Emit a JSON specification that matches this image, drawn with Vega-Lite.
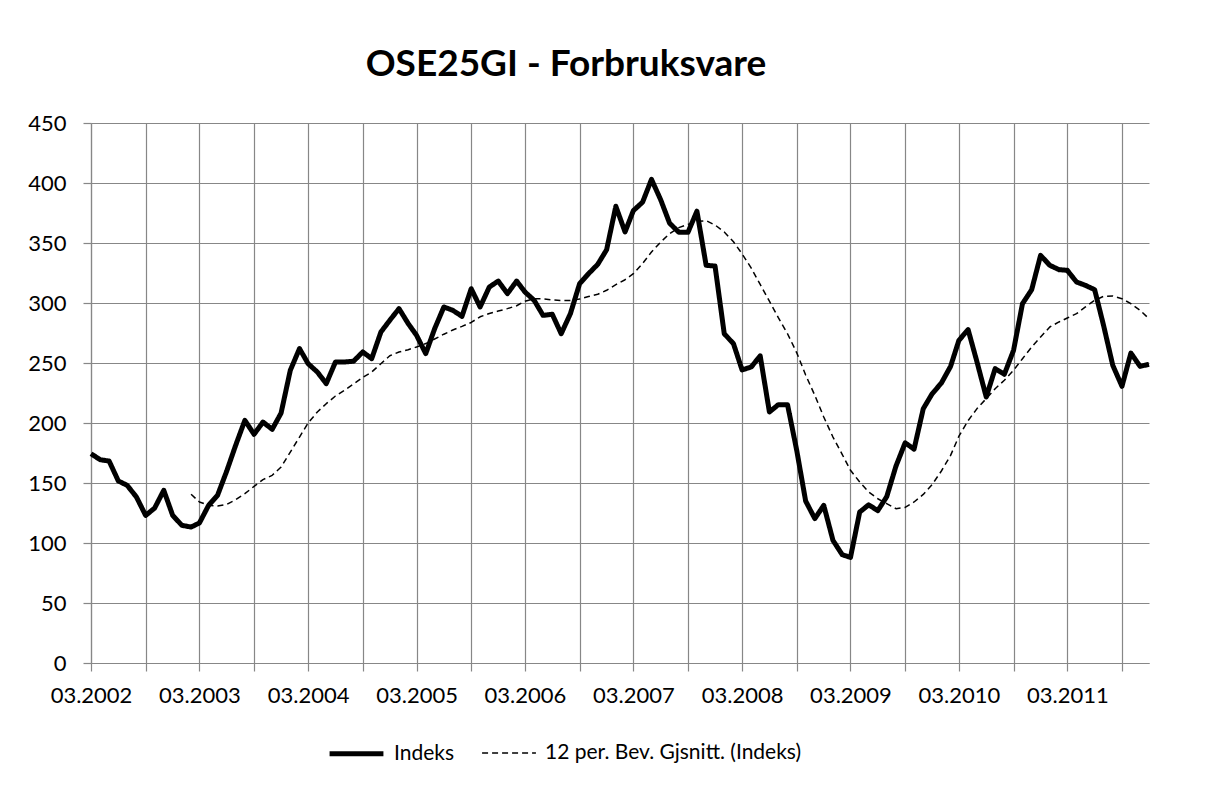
{
  "$schema": "https://vega.github.io/schema/vega-lite/v6.json",
  "width": 1058,
  "height": 540,
  "autosize": {"type": "none"},
  "padding": {"left": 91, "top": 123, "right": 62, "bottom": 122},
  "background": "white",
  "title": {
    "text": "OSE25GI - Forbruksvare",
    "font": "Lato",
    "fontSize": 37,
    "fontWeight": "bold",
    "color": "black",
    "anchor": "middle",
    "frame": "group",
    "dx": -54,
    "offset": 28
  },
  "data": {
    "values": [
      {"date": "2002-03-01", "Indeks": 174.4},
      {"date": "2002-04-01", "Indeks": 169.4},
      {"date": "2002-05-01", "Indeks": 168.3},
      {"date": "2002-06-01", "Indeks": 151.7},
      {"date": "2002-07-01", "Indeks": 148},
      {"date": "2002-08-01", "Indeks": 138.3},
      {"date": "2002-09-01", "Indeks": 123},
      {"date": "2002-10-01", "Indeks": 129},
      {"date": "2002-11-01", "Indeks": 143.9},
      {"date": "2002-12-01", "Indeks": 123},
      {"date": "2003-01-01", "Indeks": 114.7},
      {"date": "2003-02-01", "Indeks": 113.3, "MA": 140.6},
      {"date": "2003-03-01", "Indeks": 116.7, "MA": 134.2},
      {"date": "2003-04-01", "Indeks": 131.4, "MA": 131.4},
      {"date": "2003-05-01", "Indeks": 139.7, "MA": 130.8},
      {"date": "2003-06-01", "Indeks": 160, "MA": 132.2},
      {"date": "2003-07-01", "Indeks": 181.4, "MA": 136.1},
      {"date": "2003-08-01", "Indeks": 202.2, "MA": 141.1},
      {"date": "2003-09-01", "Indeks": 190.6, "MA": 147.2},
      {"date": "2003-10-01", "Indeks": 200.8, "MA": 152.8},
      {"date": "2003-11-01", "Indeks": 194.7, "MA": 156.4},
      {"date": "2003-12-01", "Indeks": 208.3, "MA": 163.3},
      {"date": "2004-01-01", "Indeks": 243.9, "MA": 175.8},
      {"date": "2004-02-01", "Indeks": 262, "MA": 188.3},
      {"date": "2004-03-01", "Indeks": 249.4, "MA": 200},
      {"date": "2004-04-01", "Indeks": 242.5, "MA": 209.2},
      {"date": "2004-05-01", "Indeks": 232.8, "MA": 216.1},
      {"date": "2004-06-01", "Indeks": 250.8, "MA": 222.5},
      {"date": "2004-07-01", "Indeks": 250.8, "MA": 227.2},
      {"date": "2004-08-01", "Indeks": 251.5, "MA": 232.5},
      {"date": "2004-09-01", "Indeks": 259.2, "MA": 238},
      {"date": "2004-10-01", "Indeks": 253.6, "MA": 242.5},
      {"date": "2004-11-01", "Indeks": 275.8, "MA": 249.4},
      {"date": "2004-12-01", "Indeks": 285.6, "MA": 256},
      {"date": "2005-01-01", "Indeks": 295.3, "MA": 259.2},
      {"date": "2005-02-01", "Indeks": 282.8, "MA": 261.1},
      {"date": "2005-03-01", "Indeks": 273.1, "MA": 263.3},
      {"date": "2005-04-01", "Indeks": 257.8, "MA": 266.2},
      {"date": "2005-05-01", "Indeks": 278.6, "MA": 270},
      {"date": "2005-06-01", "Indeks": 296.7, "MA": 274},
      {"date": "2005-07-01", "Indeks": 293.9, "MA": 277.5},
      {"date": "2005-08-01", "Indeks": 288.9, "MA": 280.5},
      {"date": "2005-09-01", "Indeks": 311.9, "MA": 283.8},
      {"date": "2005-10-01", "Indeks": 296.7, "MA": 288.5},
      {"date": "2005-11-01", "Indeks": 313.3, "MA": 291.3},
      {"date": "2005-12-01", "Indeks": 318.3, "MA": 293.3},
      {"date": "2006-01-01", "Indeks": 307.8, "MA": 295.3},
      {"date": "2006-02-01", "Indeks": 318.3, "MA": 297.7},
      {"date": "2006-03-01", "Indeks": 309.2, "MA": 301.5},
      {"date": "2006-04-01", "Indeks": 302.2, "MA": 303.6},
      {"date": "2006-05-01", "Indeks": 289.7, "MA": 303.4},
      {"date": "2006-06-01", "Indeks": 290.6, "MA": 302.6},
      {"date": "2006-07-01", "Indeks": 274.4, "MA": 302},
      {"date": "2006-08-01", "Indeks": 291.1, "MA": 302},
      {"date": "2006-09-01", "Indeks": 316.1, "MA": 303.4},
      {"date": "2006-10-01", "Indeks": 324.4, "MA": 305.4},
      {"date": "2006-11-01", "Indeks": 332.2, "MA": 307.3},
      {"date": "2006-12-01", "Indeks": 344.4, "MA": 310.6},
      {"date": "2007-01-01", "Indeks": 380.6, "MA": 315.3},
      {"date": "2007-02-01", "Indeks": 359.2, "MA": 319.4},
      {"date": "2007-03-01", "Indeks": 377, "MA": 324.4},
      {"date": "2007-04-01", "Indeks": 384, "MA": 332.8},
      {"date": "2007-05-01", "Indeks": 403, "MA": 342.5},
      {"date": "2007-06-01", "Indeks": 386, "MA": 350.8},
      {"date": "2007-07-01", "Indeks": 366.5, "MA": 357.8},
      {"date": "2007-08-01", "Indeks": 359, "MA": 362.8},
      {"date": "2007-09-01", "Indeks": 359, "MA": 365.5},
      {"date": "2007-10-01", "Indeks": 376.5, "MA": 368},
      {"date": "2007-11-01", "Indeks": 331.4, "MA": 368.6},
      {"date": "2007-12-01", "Indeks": 330.8, "MA": 365},
      {"date": "2008-01-01", "Indeks": 274.4, "MA": 359.2},
      {"date": "2008-02-01", "Indeks": 266.1, "MA": 351},
      {"date": "2008-03-01", "Indeks": 244.2, "MA": 341},
      {"date": "2008-04-01", "Indeks": 246.7, "MA": 329},
      {"date": "2008-05-01", "Indeks": 256, "MA": 315.5},
      {"date": "2008-06-01", "Indeks": 209.2, "MA": 301.5},
      {"date": "2008-07-01", "Indeks": 215.3, "MA": 287.8},
      {"date": "2008-08-01", "Indeks": 215.3, "MA": 274.4},
      {"date": "2008-09-01", "Indeks": 177.2, "MA": 258.5},
      {"date": "2008-10-01", "Indeks": 135, "MA": 240},
      {"date": "2008-11-01", "Indeks": 120.3, "MA": 223},
      {"date": "2008-12-01", "Indeks": 131.4, "MA": 205},
      {"date": "2009-01-01", "Indeks": 102.2, "MA": 188.3},
      {"date": "2009-02-01", "Indeks": 90.3, "MA": 173.9},
      {"date": "2009-03-01", "Indeks": 88, "MA": 160.6},
      {"date": "2009-04-01", "Indeks": 125.8, "MA": 150.8},
      {"date": "2009-05-01", "Indeks": 131.8, "MA": 142.5},
      {"date": "2009-06-01", "Indeks": 127, "MA": 136.9},
      {"date": "2009-07-01", "Indeks": 138.6, "MA": 132.8},
      {"date": "2009-08-01", "Indeks": 164, "MA": 128.6},
      {"date": "2009-09-01", "Indeks": 183.5, "MA": 129.6},
      {"date": "2009-10-01", "Indeks": 178.2, "MA": 134.2},
      {"date": "2009-11-01", "Indeks": 211.9, "MA": 140.5},
      {"date": "2009-12-01", "Indeks": 224.4, "MA": 148.7},
      {"date": "2010-01-01", "Indeks": 233.3, "MA": 160},
      {"date": "2010-02-01", "Indeks": 247.2, "MA": 173},
      {"date": "2010-03-01", "Indeks": 268.9, "MA": 189},
      {"date": "2010-04-01", "Indeks": 277.8, "MA": 202},
      {"date": "2010-05-01", "Indeks": 250.8, "MA": 212},
      {"date": "2010-06-01", "Indeks": 221.7, "MA": 220.3},
      {"date": "2010-07-01", "Indeks": 245.3, "MA": 228.6},
      {"date": "2010-08-01", "Indeks": 240.6, "MA": 235.6},
      {"date": "2010-09-01", "Indeks": 260.6, "MA": 243.9},
      {"date": "2010-10-01", "Indeks": 299.4, "MA": 253.6},
      {"date": "2010-11-01", "Indeks": 311.1, "MA": 263.3},
      {"date": "2010-12-01", "Indeks": 339.7, "MA": 271.7},
      {"date": "2011-01-01", "Indeks": 331.4, "MA": 280},
      {"date": "2011-02-01", "Indeks": 327.8, "MA": 284.2},
      {"date": "2011-03-01", "Indeks": 327.2, "MA": 287.5},
      {"date": "2011-04-01", "Indeks": 317.5, "MA": 291.1},
      {"date": "2011-05-01", "Indeks": 314.7, "MA": 296.7},
      {"date": "2011-06-01", "Indeks": 311.1, "MA": 302.2},
      {"date": "2011-07-01", "Indeks": 281.4, "MA": 305.6},
      {"date": "2011-08-01", "Indeks": 248.1, "MA": 305.8},
      {"date": "2011-09-01", "Indeks": 230.6, "MA": 303.6},
      {"date": "2011-10-01", "Indeks": 258.3, "MA": 299.4},
      {"date": "2011-11-01", "Indeks": 247.2, "MA": 293.9},
      {"date": "2011-12-01", "Indeks": 248.9, "MA": 286.9}
    ]
  },
  "transform": [
    {"fold": ["Indeks", "MA"], "as": ["series", "value"]}
  ],
  "mark": {"type": "line", "strokeJoin": "round", "strokeCap": "butt", "clip": false},
  "encoding": {
    "x": {
      "field": "date",
      "type": "temporal",
      "scale": {
        "type": "utc",
        "domain": [
          {"year": 2002, "month": 3, "date": 1, "utc": true},
          {"year": 2011, "month": 12, "date": 1, "utc": true}
        ]
      },
      "axis": {
        "title": null,
        "values": [
          {"year": 2002, "month": 3, "date": 1, "utc": true},
          {"year": 2002, "month": 9, "date": 1, "utc": true},
          {"year": 2003, "month": 3, "date": 1, "utc": true},
          {"year": 2003, "month": 9, "date": 1, "utc": true},
          {"year": 2004, "month": 3, "date": 1, "utc": true},
          {"year": 2004, "month": 9, "date": 1, "utc": true},
          {"year": 2005, "month": 3, "date": 1, "utc": true},
          {"year": 2005, "month": 9, "date": 1, "utc": true},
          {"year": 2006, "month": 3, "date": 1, "utc": true},
          {"year": 2006, "month": 9, "date": 1, "utc": true},
          {"year": 2007, "month": 3, "date": 1, "utc": true},
          {"year": 2007, "month": 9, "date": 1, "utc": true},
          {"year": 2008, "month": 3, "date": 1, "utc": true},
          {"year": 2008, "month": 9, "date": 1, "utc": true},
          {"year": 2009, "month": 3, "date": 1, "utc": true},
          {"year": 2009, "month": 9, "date": 1, "utc": true},
          {"year": 2010, "month": 3, "date": 1, "utc": true},
          {"year": 2010, "month": 9, "date": 1, "utc": true},
          {"year": 2011, "month": 3, "date": 1, "utc": true},
          {"year": 2011, "month": 9, "date": 1, "utc": true}
        ],
        "labelExpr": "utcmonth(datum.value) == 2 ? utcFormat(datum.value, '%m.%Y') : ''",
        "labelFont": "Lato",
        "labelFontSize": 22,
        "labelColor": "black",
        "labelPadding": 14,
        "labelFlush": false,
        "labelOverlap": false,
        "grid": true,
        "gridColor": "#878787",
        "gridWidth": 1.2,
        "tickColor": "#878787",
        "tickSize": 8,
        "tickWidth": 1.2,
        "domainColor": "#878787",
        "domainWidth": 1.2
      }
    },
    "y": {
      "field": "value",
      "type": "quantitative",
      "scale": {"domain": [0, 450], "nice": false, "zero": true},
      "axis": {
        "title": null,
        "values": [0, 50, 100, 150, 200, 250, 300, 350, 400, 450],
        "labelFont": "Lato",
        "labelFontSize": 22,
        "labelColor": "black",
        "labelPadding": 17,
        "grid": true,
        "gridColor": "#878787",
        "gridWidth": 1.2,
        "tickColor": "#878787",
        "tickSize": 8,
        "tickWidth": 1.2,
        "domainColor": "#878787",
        "domainWidth": 1.2
      }
    },
    "color": {
      "field": "series",
      "type": "nominal",
      "scale": {"domain": ["Indeks", "MA"], "range": ["#000000", "#000000"]},
      "legend": {
        "title": null,
        "orient": "none",
        "direction": "horizontal",
        "legendX": 236,
        "legendY": 601,
        "padding": 0,
        "symbolType": "stroke",
        "symbolSize": 2900,
        "labelFont": "Lato",
        "labelFontSize": 21,
        "labelColor": "black",
        "labelOffset": 8,
        "labelLimit": 0,
        "columnPadding": 24,
        "labelExpr": "datum.label == 'MA' ? '12 per. Bev. Gjsnitt. (Indeks)' : datum.label"
      }
    },
    "strokeDash": {
      "field": "series",
      "type": "nominal",
      "scale": {"domain": ["Indeks", "MA"], "range": [[1, 0], [6, 4]]},
      "legend": {
        "title": null,
        "orient": "none",
        "direction": "horizontal",
        "legendX": 236,
        "legendY": 601,
        "padding": 0,
        "symbolType": "stroke",
        "symbolSize": 2900,
        "labelFont": "Lato",
        "labelFontSize": 21,
        "labelColor": "black",
        "labelOffset": 8,
        "labelLimit": 0,
        "columnPadding": 24,
        "labelExpr": "datum.label == 'MA' ? '12 per. Bev. Gjsnitt. (Indeks)' : datum.label"
      }
    },
    "strokeWidth": {
      "field": "series",
      "type": "nominal",
      "scale": {"domain": ["Indeks", "MA"], "range": [5, 1.5]},
      "legend": {
        "title": null,
        "orient": "none",
        "direction": "horizontal",
        "legendX": 236,
        "legendY": 601,
        "padding": 0,
        "symbolType": "stroke",
        "symbolSize": 2900,
        "labelFont": "Lato",
        "labelFontSize": 21,
        "labelColor": "black",
        "labelOffset": 8,
        "labelLimit": 0,
        "columnPadding": 24,
        "labelExpr": "datum.label == 'MA' ? '12 per. Bev. Gjsnitt. (Indeks)' : datum.label"
      }
    }
  },
  "config": {
    "view": {"stroke": null},
    "font": "Lato"
  }
}
